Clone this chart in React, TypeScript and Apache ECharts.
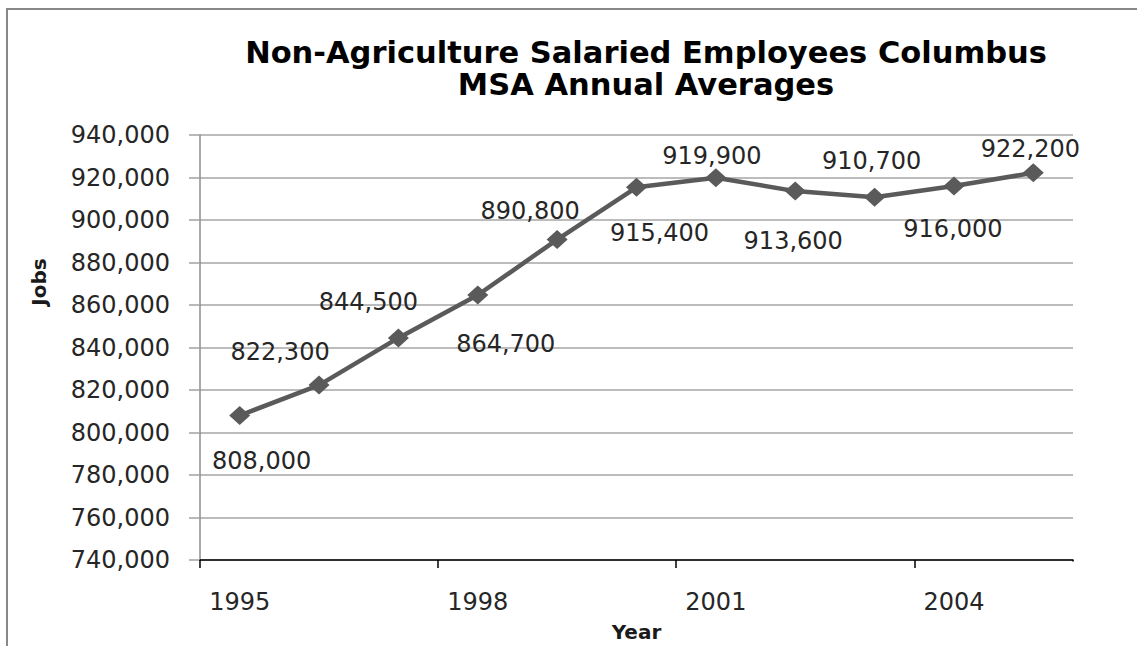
import React, { useEffect, useRef } from "react";
import * as echarts from "echarts";

const years = ["1995", "1996", "1997", "1998", "1999", "2000", "2001", "2002", "2003", "2004", "2005"];
const jobs = [808000, 822300, 844500, 864700, 890800, 915400, 919900, 913600, 910700, 916000, 922200];
const yMin = 740000;
const yMax = 940000;
const yStep = 20000;
const titleLines = ["Non-Agriculture Salaried Employees Columbus", "MSA Annual Averages"];
const yName = "Jobs";
const xName = "Year";
// label offsets (px) relative to each marker, as placed in the original
const labelOffsets: number[][] = [
  [22, 45], [-39, -33], [-30, -36], [28, 49], [-27, -29], [23, 46],
  [-4, -22], [-2, 50], [-3, -36], [-1, 43], [-3, -24],
];

const fmt = (v: number) => v.toLocaleString("en-US");

export default function App() {
  const ref = useRef<HTMLDivElement>(null);
  useEffect(() => {
    document.body.style.margin = "0";
    const chart = echarts.init(ref.current!, null, { renderer: "svg" });
    const labelFont = "DejaVu Sans";
    chart.setOption({
      animation: false,
      backgroundColor: "#ffffff",
      graphic: [
        {
          type: "rect",
          z: -10,
          shape: { x: 7, y: 9, width: 1300, height: 800 },
          style: { fill: "none", stroke: "#888888", lineWidth: 2 },
        },
        {
          // hide the band-end tick that the original does not have
          type: "rect",
          z: 100,
          shape: { x: 1071, y: 561.5, width: 5, height: 10 },
          style: { fill: "#ffffff", stroke: "none" },
        },
        {
          type: "text",
          x: 646,
          y: 52,
          style: {
            text: titleLines[0],
            font: "bold 30.5px 'DejaVu Sans'",
            fill: "#000000",
            textAlign: "center",
            textVerticalAlign: "middle",
          },
        },
        {
          type: "text",
          x: 646,
          y: 84,
          style: {
            text: titleLines[1],
            font: "bold 30.5px 'DejaVu Sans'",
            fill: "#000000",
            textAlign: "center",
            textVerticalAlign: "middle",
          },
        },
        {
          type: "text",
          x: 39,
          y: 282,
          rotation: Math.PI / 2,
          style: {
            text: yName,
            font: "bold 20px 'DejaVu Sans'",
            fill: "#1a1a1a",
            textAlign: "center",
            textVerticalAlign: "middle",
          },
        },
      ],
      grid: { left: 200, top: 135, width: 873, height: 425, containLabel: false, outerBoundsMode: "none" },
      xAxis: {
        type: "category",
        data: years,
        boundaryGap: true,
        name: xName,
        nameLocation: "middle",
        nameGap: 62,
        nameTextStyle: { fontFamily: labelFont, fontWeight: "bold", fontSize: 20, color: "#1a1a1a" },
        axisLine: { show: true, lineStyle: { color: "#000000", width: 1.5 } },
        axisTick: { show: true, interval: 2, length: 8, lineStyle: { color: "#000000", width: 1.5 } },
        axisLabel: { interval: 2, margin: 30, fontFamily: labelFont, fontSize: 24, color: "#262626" },
        splitLine: { show: false },
      },
      yAxis: {
        type: "value",
        min: yMin,
        max: yMax,
        interval: yStep,
        axisLine: { show: true, lineStyle: { color: "#8c8c8c", width: 1.5 } },
        axisTick: { show: true, length: 11, lineStyle: { color: "#a0a0a0", width: 1.5 } },
        axisLabel: { margin: 30, fontFamily: labelFont, fontSize: 24, color: "#262626", formatter: (v: number) => fmt(v) },
        splitLine: { show: true, lineStyle: { color: "#a6a6a6", width: 1.5 } },
      },
      series: [
        {
          type: "line",
          data: jobs.map((v, i) => ({
            value: v,
            label: { offset: labelOffsets[i] },
          })),
          symbol: "diamond",
          symbolSize: [21, 19],
          lineStyle: { color: "#5a5a5a", width: 4.5 },
          itemStyle: { color: "#5a5a5a" },
          label: {
            show: true,
            position: "inside",
            fontFamily: labelFont,
            fontSize: 24,
            color: "#262626",
            formatter: (p: any) => fmt(p.value),
          },
        },
      ],
    });
    return () => chart.dispose();
  }, []);
  return <div ref={ref} style={{ width: 1137, height: 646 }} />;
}
